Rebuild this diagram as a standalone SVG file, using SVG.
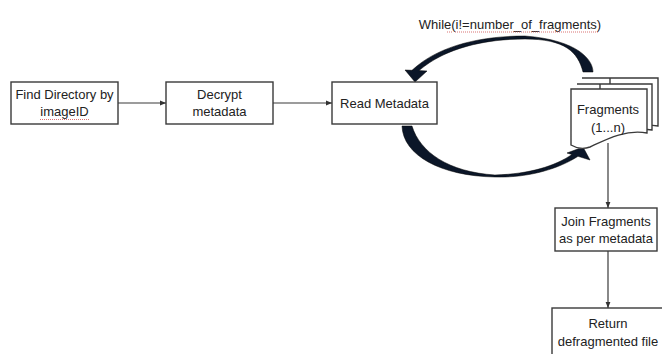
<svg xmlns="http://www.w3.org/2000/svg" width="662" height="354" viewBox="0 0 662 354">
<defs>
<marker id="ah" viewBox="0 0 10 10" refX="10" refY="5" markerWidth="6" markerHeight="6" markerUnits="userSpaceOnUse" orient="auto">
<path d="M0,1 L10,5 L0,9 Z" fill="#333"/>
</marker>
<style>
.box{fill:#fff;stroke:#3a3a3a;stroke-width:1.4}
.t{font-family:"Liberation Sans",Arial,sans-serif;font-size:13px;fill:#222;text-anchor:middle}
.ln{stroke:#3a3a3a;stroke-width:1.2;fill:none}
.curve{fill:#0b1628;stroke:#000;stroke-width:0.5;stroke-linejoin:round}
.sq{stroke:#d05050;stroke-width:1;stroke-dasharray:1 1;fill:none;opacity:0.8}
</style>
</defs>
<rect width="662" height="354" fill="#fff"/>

<g id="connectors">
<line class="ln" x1="118" y1="103" x2="166" y2="103" marker-end="url(#ah)"/>
<line class="ln" x1="273" y1="103" x2="332" y2="103" marker-end="url(#ah)"/>
<line class="ln" x1="608" y1="143" x2="608" y2="208" marker-end="url(#ah)"/>
<line class="ln" x1="608" y1="251" x2="608" y2="308" marker-end="url(#ah)"/>
<path id="loop-back" class="curve" d="M593,72 C593,60 578,40 525,36 C485,36 440,44 412,70.3 L405,70 L415,82 L427,71 L419,70.6 C445,48 485,39 525,39 C565,39 578,52 583,72 Z"/>
<path id="loop-forward" class="curve" d="M402,126 C403,155 440,176 495,177 C530,178 560,168 578,156.3 L590,160 L583,147 L567,153 L572,154.5 C555,166 530,174 495,175 C448,172 420,152 412,126 Z"/>
</g>

<g id="loop-label">
<text class="t" x="510" y="29">While(i!=number_of_fragments)</text>
<line class="sq" x1="447" y1="32" x2="452" y2="32"/>
<line class="sq" x1="455" y1="32" x2="598" y2="32"/>
</g>

<g id="find-directory">
<rect class="box" x="11" y="82" width="107" height="42"/>
<text class="t" x="64.5" y="99">Find Directory by</text>
<text class="t" x="64.5" y="116">imageID</text>
<line class="sq" x1="40" y1="119.5" x2="90" y2="119.5"/>
</g>

<g id="decrypt">
<rect class="box" x="166" y="82" width="107" height="42"/>
<text class="t" x="219.5" y="99">Decrypt</text>
<text class="t" x="219.5" y="116">metadata</text>
</g>

<g id="read-metadata">
<rect class="box" x="332" y="82" width="105" height="42"/>
<text class="t" x="384.5" y="107.5">Read Metadata</text>
</g>

<g id="fragments">
<path class="box" d="M582,78 H658 V126 C640,123 625,128 610,132 V78 Z"/>
<path class="box" d="M577,84 H652 V130 C635,127 620,133 600,138 V84 Z"/>
<path class="box" d="M571,89 H647 V133 C625,129 605,140 590,147 C582,150 576,148 571,145 Z"/>
<text class="t" x="608" y="114">Fragments</text>
<text class="t" x="608" y="132">(1...n)</text>
</g>

<g id="join-fragments">
<rect class="box" x="555" y="208" width="102" height="43"/>
<text class="t" x="606" y="226">Join Fragments</text>
<text class="t" x="606" y="243">as per metadata</text>
</g>

<g id="return-file">
<rect class="box" x="552" y="308" width="112" height="50"/>
<text class="t" x="608" y="328">Return</text>
<text class="t" x="608" y="346">defragmented file</text>
</g>
</svg>
